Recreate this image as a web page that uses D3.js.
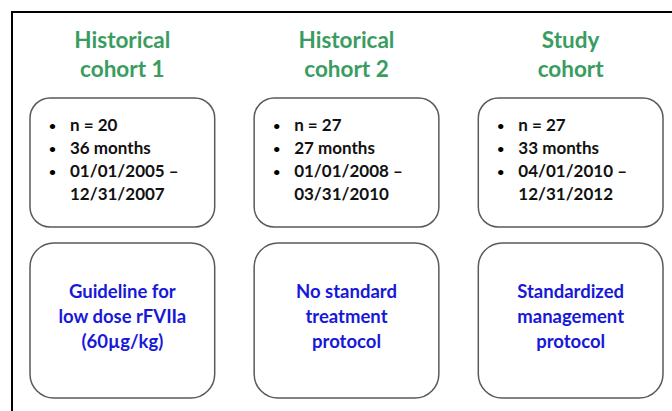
<!DOCTYPE html>
<html>
<head>
<meta charset="utf-8">
<script src="https://cdn.jsdelivr.net/npm/d3@7"></script>
<style>
  html, body { margin: 0; padding: 0; background: #fff; }
  svg { display: block; }
  text { font-family: Lato, "Open Sans", sans-serif; font-weight: bold; }
</style>
</head>
<body>
<div id="chart"></div>
<script>
const width = 672;
const height = 411;

// cohorts shown left to right
const cohorts = ["Historical cohort 1", "Historical cohort 2", "Study cohort"];
const titleLines = [["Historical", "cohort 1"], ["Historical", "cohort 2"], ["Study", "cohort"]];
const nValues = [20, 27, 27];
const durations = [36, 27, 33];
const dateStarts = ["01/01/2005", "01/01/2008", "04/01/2010"];
const dateEnds = ["12/31/2007", "03/31/2010", "12/31/2012"];
const protocolLines = [
  ["Guideline for", "low dose rFVIIa", "(60\u00b5g/kg)"],
  ["No standard", "treatment", "protocol"],
  ["Standardized", "management", "protocol"]
];

const green = "#3a9c5f";
const blue = "#1818d8";
const boxStroke = "#5a5a5a";

const svg = d3.select("#chart")
  .append("svg")
  .attr("width", width)
  .attr("height", height);

// frame: only the left and top edges show
svg.append("path")
  .attr("d", `M12,${height} L12,12 L${width},12`)
  .attr("fill", "none")
  .attr("stroke", "#000")
  .attr("stroke-width", 2);

const x = d3.scaleBand()
  .domain(cohorts)
  .range([30, 663])
  .paddingInner(0.176);

const col = svg.selectAll("g.cohort")
  .data(cohorts.map((c, i) => ({
    name: c,
    title: titleLines[i],
    bullets: [`n = ${nValues[i]}`, `${durations[i]} months`, `${dateStarts[i]} \u2013`],
    cont: dateEnds[i],
    protocol: protocolLines[i]
  })))
  .join("g")
  .attr("class", "cohort")
  .attr("transform", d => `translate(${x(d.name)},0)`);

const bw = x.bandwidth();

// titles
col.append("text")
  .attr("text-anchor", "middle")
  .attr("fill", green)
  .attr("font-size", 22.5)
  .selectAll("tspan")
  .data(d => d.title)
  .join("tspan")
  .attr("x", bw / 2)
  .attr("y", (d, i) => 48 + i * 29)
  .text(d => d);

// info boxes
col.append("rect")
  .attr("x", 0)
  .attr("y", 98)
  .attr("width", bw)
  .attr("height", 129)
  .attr("rx", 20)
  .attr("fill", "#fff")
  .attr("stroke", boxStroke)
  .attr("stroke-width", 1.5);

const info = col.append("g");
info.selectAll("text.bullet")
  .data(d => d.bullets)
  .join("text")
  .attr("class", "bullet")
  .attr("x", 19)
  .attr("y", (d, i) => 130 + i * 23)
  .attr("font-size", 12)
  .text("\u2022");

info.selectAll("text.item")
  .data(d => d.bullets.concat([d.cont]))
  .join("text")
  .attr("class", "item")
  .attr("x", 40)
  .attr("y", (d, i) => 131 + i * 23)
  .attr("font-size", 17)
  .attr("fill", "#111")
  .text(d => d);

// protocol boxes
col.append("rect")
  .attr("x", 0)
  .attr("y", 243)
  .attr("width", bw)
  .attr("height", 155)
  .attr("rx", 24)
  .attr("fill", "#fff")
  .attr("stroke", boxStroke)
  .attr("stroke-width", 1.5);

col.append("text")
  .attr("text-anchor", "middle")
  .attr("fill", blue)
  .attr("font-size", 18.5)
  .selectAll("tspan")
  .data(d => d.protocol)
  .join("tspan")
  .attr("x", bw / 2)
  .attr("y", (d, i) => 298 + i * 25)
  .text(d => d);
</script>
</body>
</html>
